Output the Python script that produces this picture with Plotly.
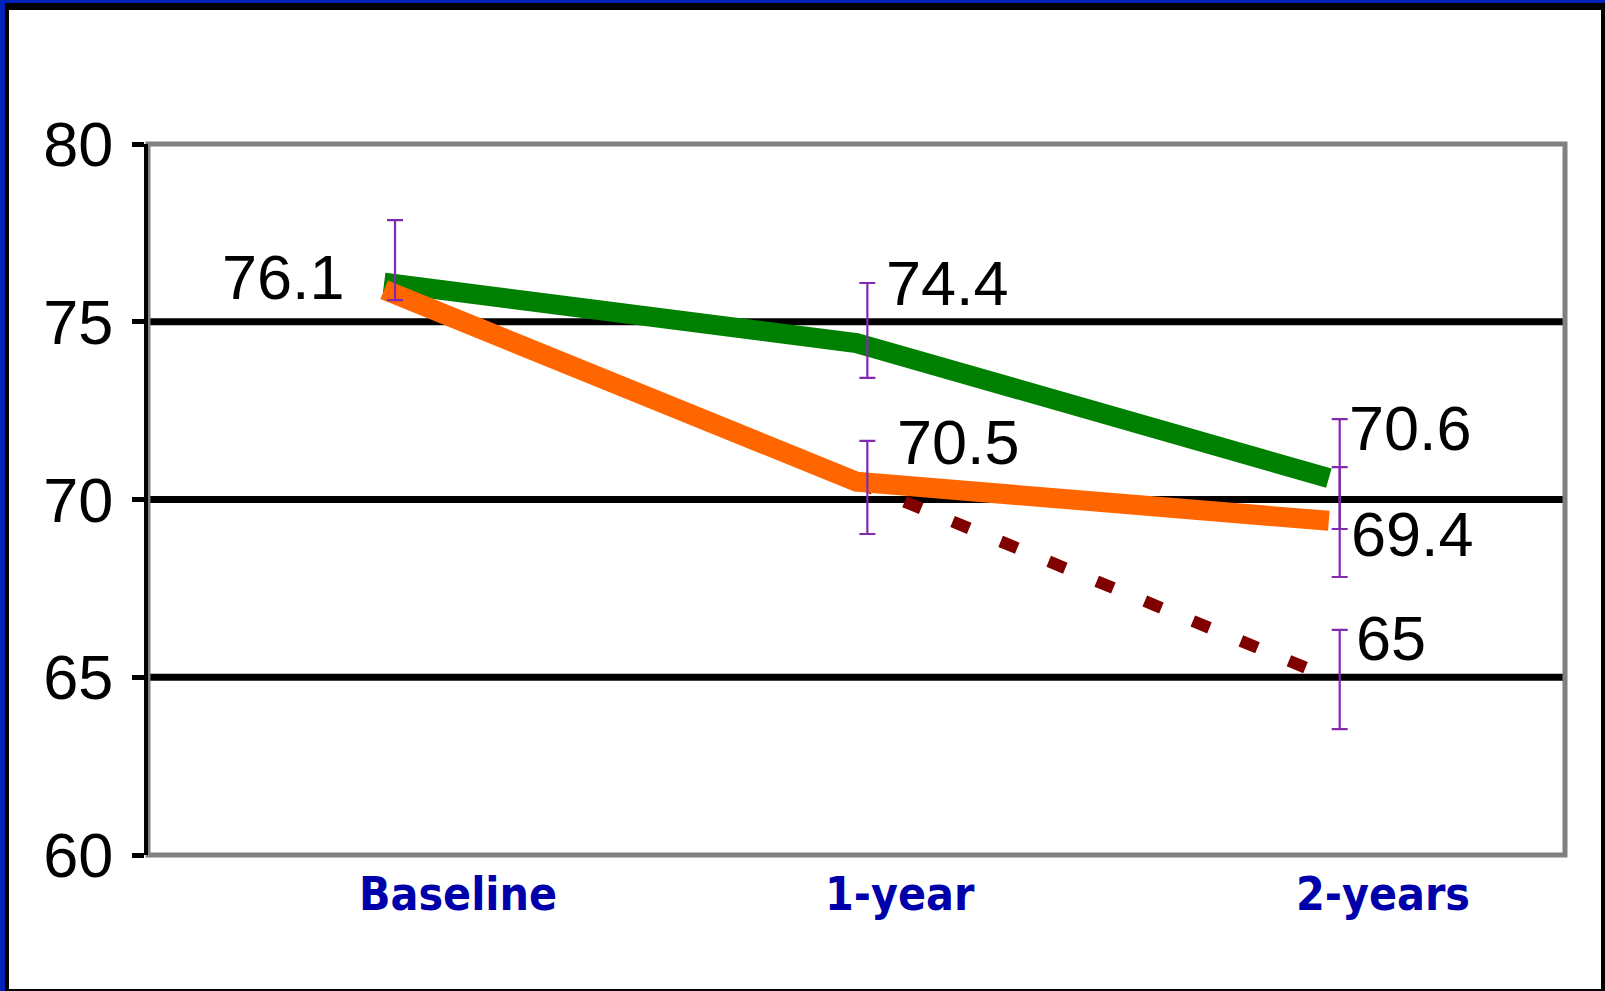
import plotly.graph_objects as go

# ---------------- data ----------------
categories = ["Baseline", "1-year", "2-years"]
green_vals = [76.1, 74.4, 70.6]
orange_vals = [75.9, 70.5, 69.4]
dashed_vals = [None, 70.5, 65.0]

# error bars (None = no bar drawn)
green_err_plus = [1.76, 1.69, 1.66]
green_err_minus = [0.49, 0.98, 1.43]
orange_err_plus = [None, 1.15, 1.51]
orange_err_minus = [None, 1.47, 1.58]
dashed_err_plus = [None, None, 1.33]
dashed_err_minus = [None, None, 1.46]

y_ticks = [60, 65, 70, 75, 80]
grid_vals = [65, 70, 75]

# ---------------- layout constants ----------------
W, H = 1605, 991
L, R, T, B = 148, 40, 144, 136
PW, PH = W - L - R, H - T - B

def px(x):
    return (x - L) / PW

def py(y):
    return (H - B - y) / PH

GREEN = "#008000"
ORANGE = "#FF6600"
DARKRED = "#800000"
PURPLE = "#8229B0"
NUM_FONT = dict(family="Liberation Sans, Arial, sans-serif", size=63, color="black")
CAT_FONT = dict(family="DejaVu Sans Condensed, DejaVu Sans, Verdana, sans-serif",
                size=46, color="#0000AA", weight="bold")

fig = go.Figure()

# lines
fig.add_trace(go.Scatter(x=categories, y=dashed_vals, mode="lines",
                         line=dict(color=DARKRED, width=12, dash="18px,34px"),
                         hoverinfo="skip", showlegend=False))
fig.add_trace(go.Scatter(x=categories, y=green_vals, mode="lines",
                         line=dict(color=GREEN, width=20),
                         hoverinfo="skip", showlegend=False))
fig.add_trace(go.Scatter(x=categories, y=orange_vals, mode="lines",
                         line=dict(color=ORANGE, width=20),
                         hoverinfo="skip", showlegend=False))

# error bars (on a slightly shifted overlay axis)
def err_trace(vals, plus, minus):
    yv = [v if (p is not None and v is not None) else None for v, p in zip(vals, plus)]
    return go.Scatter(x=categories, y=yv, mode="markers", xaxis="x2",
                      marker=dict(size=1, color="rgba(0,0,0,0)"),
                      error_y=dict(type="data", symmetric=False,
                                   array=[p if p is not None else 0 for p in plus],
                                   arrayminus=[m if m is not None else 0 for m in minus],
                                   color=PURPLE, thickness=2.2, width=8),
                      hoverinfo="skip", showlegend=False)

fig.add_trace(err_trace(green_vals, green_err_plus, green_err_minus))
fig.add_trace(err_trace(orange_vals, orange_err_plus, orange_err_minus))
fig.add_trace(err_trace(dashed_vals, dashed_err_plus, dashed_err_minus))

annotations = []
# value labels: (category index, value, xanchor, xshift, yshift)
label_specs = [
    (0, green_vals[0], "right", -37, 6),
    (1, green_vals[1], "left", 27, 60),
    (1, orange_vals[1], "left", 38, 40),
    (2, green_vals[2], "left", 18, 50),
    (2, orange_vals[2], "left", 20, -13),
    (2, dashed_vals[2], "left", 25, 39),
]
for i, v, xa, xs, ys in label_specs:
    annotations.append(dict(x=categories[i], y=v, xref="x", yref="y", text=f"{v:g}",
                            showarrow=False, xanchor=xa, yanchor="middle",
                            xshift=xs, yshift=ys, font=NUM_FONT))

# category labels
cat_shift = [74, 43, 54]
for c, s in zip(categories, cat_shift):
    annotations.append(dict(x=c, y=py(894), xref="x", yref="paper", text=c,
                            showarrow=False, xanchor="center", yanchor="middle",
                            xshift=s, font=CAT_FONT))

shapes = []
# gridlines (black, drawn under traces)
for g in grid_vals:
    shapes.append(dict(type="line", xref="paper", yref="y", x0=0, x1=1, y0=g, y1=g,
                       line=dict(color="black", width=7), layer="below"))
# gray plot frame
shapes.append(dict(type="rect", xref="paper", yref="paper", x0=0, x1=1, y0=0, y1=1,
                   line=dict(color="#808080", width=5), layer="below"))
# page border: blue top/left, black inner, black right/bottom
shapes += [
    dict(type="rect", xref="paper", yref="paper", x0=px(0), x1=px(W), y0=py(0), y1=py(3),
         fillcolor="#0022BB", line=dict(width=0), layer="above"),
    dict(type="rect", xref="paper", yref="paper", x0=px(5), x1=px(W), y0=py(3), y1=py(10),
         fillcolor="black", line=dict(width=0), layer="above"),
    dict(type="rect", xref="paper", yref="paper", x0=px(0), x1=px(5), y0=py(H), y1=py(0),
         fillcolor="#0022BB", line=dict(width=0), layer="above"),
    dict(type="rect", xref="paper", yref="paper", x0=px(5), x1=px(9), y0=py(H), y1=py(3),
         fillcolor="black", line=dict(width=0), layer="above"),
    dict(type="rect", xref="paper", yref="paper", x0=px(1601), x1=px(W), y0=py(H), y1=py(3),
         fillcolor="black", line=dict(width=0), layer="above"),
    dict(type="rect", xref="paper", yref="paper", x0=px(5), x1=px(W), y0=py(H), y1=py(989),
         fillcolor="black", line=dict(width=0), layer="above"),
]

fig.update_layout(
    width=W, height=H,
    margin=dict(l=L, r=R, t=T, b=B),
    paper_bgcolor="white", plot_bgcolor="white",
    showlegend=False,
    xaxis=dict(type="category", categoryorder="array", categoryarray=categories,
               range=[-0.5, 2.5], showgrid=False, showticklabels=False, ticks="",
               zeroline=False, showline=False, fixedrange=True),
    xaxis2=dict(type="category", categoryorder="array", categoryarray=categories,
                range=[-0.523, 2.477], overlaying="x", anchor="y", visible=False,
                fixedrange=True),
    yaxis=dict(range=[60, 80], tickvals=y_ticks, ticktext=[str(t) for t in y_ticks],
               showgrid=False, zeroline=False, showline=True, linecolor="black",
               linewidth=4, ticks="outside", ticklen=12, tickwidth=5, tickcolor="black",
               tickfont=NUM_FONT, ticklabelstandoff=6, fixedrange=True, layer="above traces"),
    annotations=annotations,
    shapes=shapes,
)

fig.write_html(
    "out.html",
    config={"displayModeBar": False},
    post_script="document.body.style.margin='0';document.body.style.overflow='hidden';",
)
